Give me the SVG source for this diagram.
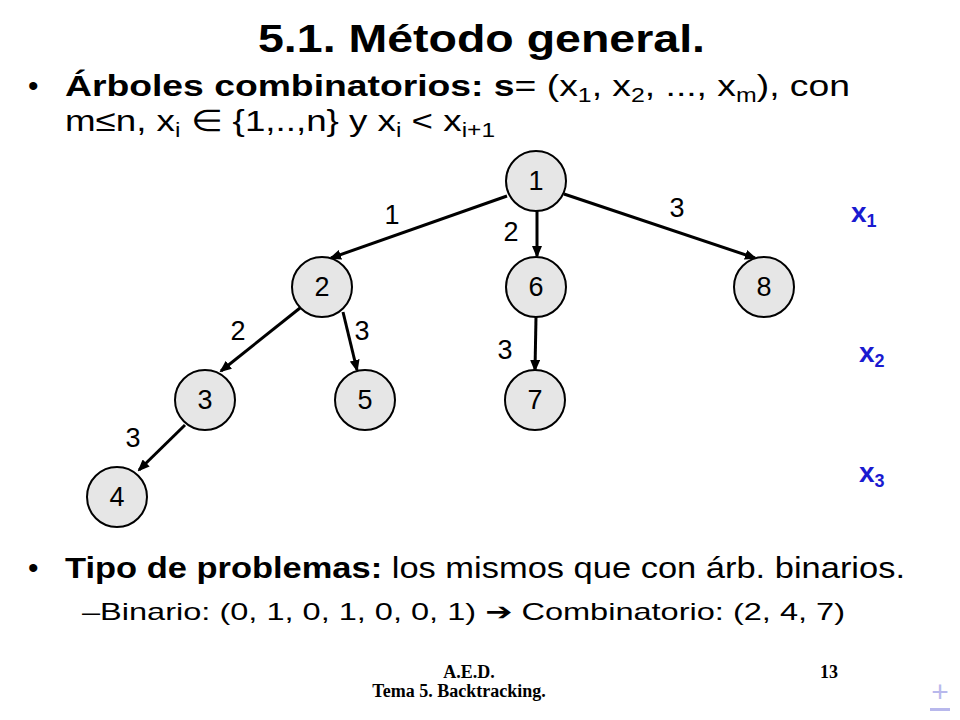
<svg xmlns="http://www.w3.org/2000/svg" width="960" height="720" viewBox="0 0 960 720">
<style>
.t{font-family:"Liberation Sans",Arial,sans-serif;fill:#000}
.n circle{fill:#e6e6e6;stroke:#000;stroke-width:2}
.n text{font-family:"Liberation Sans",Arial,sans-serif;font-size:27px;text-anchor:middle}
.e line{stroke:#000;stroke-width:3;marker-end:url(#a)}
.l{font-family:"Liberation Sans",Arial,sans-serif;font-size:27px;text-anchor:middle}
.x{font-family:"Liberation Sans",Arial,sans-serif;font-size:28px;font-weight:bold;fill:#1a1ad0}
.f{font-family:"Liberation Serif","Times New Roman",serif;font-weight:bold;font-size:18px}
</style>
<defs><marker id="a" markerWidth="12" markerHeight="10" refX="10" refY="5" orient="auto" markerUnits="userSpaceOnUse" viewBox="0 0 12 10"><path d="M0,0L12,5L0,10z"/></marker></defs>
<rect width="960" height="720" fill="#fff"/>
<text class="t" x="258" y="52" font-size="38" font-weight="bold" textLength="447" lengthAdjust="spacingAndGlyphs">5.1. Método general.</text>
<text class="t" x="28" y="96" font-size="30">•</text>
<text class="t" x="65" y="96" font-size="30" textLength="785" lengthAdjust="spacingAndGlyphs"><tspan font-weight="bold">Árboles combinatorios: s</tspan>= (x<tspan font-size="20" dy="6">1</tspan><tspan dy="-6">, x</tspan><tspan font-size="20" dy="6">2</tspan><tspan dy="-6">, ..., x</tspan><tspan font-size="20" dy="6">m</tspan><tspan dy="-6">), con</tspan></text>
<text class="t" x="65" y="131" font-size="30" textLength="430" lengthAdjust="spacingAndGlyphs">m≤n, x<tspan font-size="20" dy="6">i</tspan><tspan dy="-6"> ∈ {1,..,n} y x</tspan><tspan font-size="20" dy="6">i</tspan><tspan dy="-6"> &lt; x</tspan><tspan font-size="20" dy="6">i+1</tspan></text>
<g id="connectors" class="e">
<line x1="507" y1="196" x2="331" y2="258"/>
<line x1="537" y1="211" x2="537" y2="256"/>
<line x1="564" y1="194" x2="755" y2="258"/>
<line x1="300" y1="308" x2="221" y2="371"/>
<line x1="343" y1="312" x2="357" y2="370"/>
<line x1="536" y1="317" x2="535" y2="370"/>
<line x1="185" y1="425" x2="139" y2="470"/>
</g>
<g id="n1" class="n"><circle cx="536" cy="181" r="30"/><text x="536" y="190">1</text></g>
<g id="n2" class="n"><circle cx="322" cy="287" r="30"/><text x="322" y="296">2</text></g>
<g id="n6" class="n"><circle cx="536" cy="287" r="30"/><text x="536" y="296">6</text></g>
<g id="n8" class="n"><circle cx="764" cy="287" r="30"/><text x="764" y="296">8</text></g>
<g id="n3" class="n"><circle cx="205" cy="400" r="30"/><text x="205" y="409">3</text></g>
<g id="n5" class="n"><circle cx="365" cy="400" r="30"/><text x="365" y="409">5</text></g>
<g id="n7" class="n"><circle cx="535" cy="400" r="30"/><text x="535" y="409">7</text></g>
<g id="n4" class="n"><circle cx="117" cy="497" r="30"/><text x="117" y="506">4</text></g>
<text class="l" x="392" y="224">1</text>
<text class="l" x="677" y="217">3</text>
<text class="l" x="511" y="241">2</text>
<text class="l" x="238" y="340">2</text>
<text class="l" x="362" y="340">3</text>
<text class="l" x="505" y="359">3</text>
<text class="l" x="133" y="447">3</text>
<text class="x" x="851" y="222">x<tspan font-size="18" dy="5">1</tspan></text>
<text class="x" x="859" y="362">x<tspan font-size="18" dy="5">2</tspan></text>
<text class="x" x="859" y="482">x<tspan font-size="18" dy="5">3</tspan></text>
<text class="t" x="28" y="578" font-size="30">•</text>
<text class="t" x="65" y="578" font-size="30" textLength="840" lengthAdjust="spacingAndGlyphs"><tspan font-weight="bold">Tipo de problemas:</tspan> los mismos que con árb. binarios.</text>
<text class="t" x="82" y="620" font-size="24" textLength="763" lengthAdjust="spacingAndGlyphs">–Binario: (0, 1, 0, 1, 0, 0, 1) <tspan font-weight="bold" font-family="DejaVu Sans">➔</tspan> Combinatorio: (2, 4, 7)</text>
<text class="f" x="469" y="678" text-anchor="middle">A.E.D.</text>
<text class="f" x="459" y="697" text-anchor="middle">Tema 5. Backtracking.</text>
<text class="f" x="829" y="678" text-anchor="middle">13</text>
<text x="940" y="702" font-family="Liberation Sans,sans-serif" font-size="30" fill="#b8b8ec" text-anchor="middle">+</text>
<rect x="930" y="708" width="20" height="3" fill="#b8b8ec"/>
</svg>
